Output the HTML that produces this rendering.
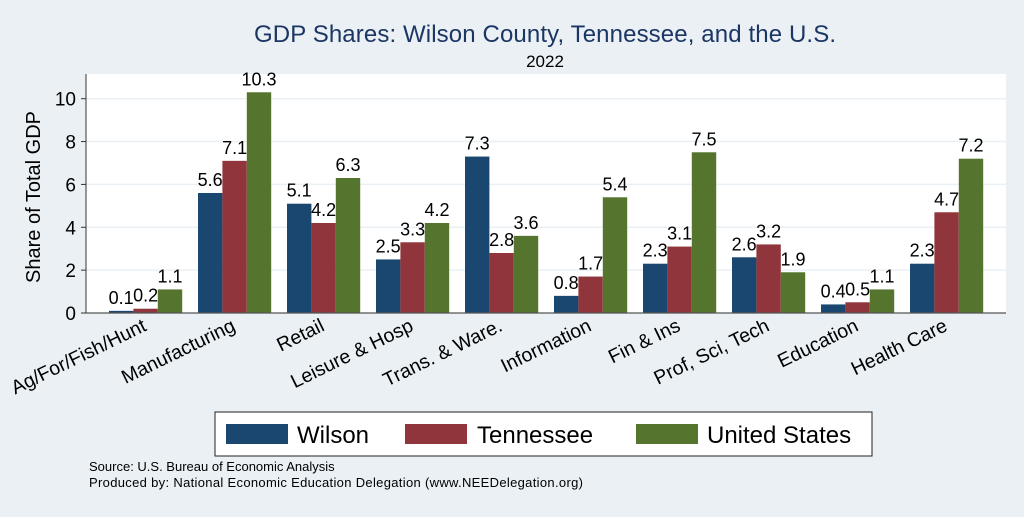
<!DOCTYPE html>
<html><head><meta charset="utf-8"><style>
body{margin:0;width:1024px;height:512px;background:#eaf0f4;font-family:"Liberation Sans",sans-serif;overflow:hidden}
</style></head><body>
<svg width="1024" height="512" xmlns="http://www.w3.org/2000/svg" font-family="Liberation Sans, sans-serif">
<rect x="0" y="0" width="1024" height="512" fill="#eaf0f4"/>
<text x="545" y="42" font-size="24" fill="#1c3664" text-anchor="middle" textLength="582">GDP Shares: Wilson County, Tennessee, and the U.S.</text>
<text x="545" y="67" font-size="17" text-anchor="middle">2022</text>
<rect x="86" y="74" width="920" height="239" fill="#fff"/>
<g id="grid"></g>
<g id="bars"></g>
<line x1="86" y1="74" x2="86" y2="313" stroke="#333" stroke-width="1"/>
<line x1="86" y1="313" x2="1006" y2="313" stroke="#555" stroke-width="1.2"/>
<text transform="translate(40,197) rotate(-90)" font-size="20" text-anchor="middle">Share of Total GDP</text>
<rect x="215" y="412" width="657" height="44" fill="#fff" stroke="#222" stroke-width="1"/>
<g><rect x="226" y="424" width="62" height="20" fill="#1a476f"/><text x="297" y="443" font-size="24">Wilson</text></g>
<g><rect x="405" y="424" width="62" height="20" fill="#90353b"/><text x="477" y="443" font-size="24">Tennessee</text></g>
<g><rect x="636" y="424" width="62" height="20" fill="#55752f"/><text x="707" y="443" font-size="24">United States</text></g>
<text x="89" y="471" font-size="13">Source: U.S. Bureau of Economic Analysis</text>
<text x="89" y="487" font-size="13" textLength="494">Produced by: National Economic Education Delegation (www.NEEDelegation.org)</text>
</svg>
<script>
const categories=["Ag/For/Fish/Hunt","Manufacturing","Retail","Leisure & Hosp","Trans. & Ware.","Information","Fin & Ins","Prof, Sci, Tech","Education","Health Care"];
const wilson=[0.1,5.6,5.1,2.5,7.3,0.8,2.3,2.6,0.4,2.3];
const tennessee=[0.2,7.1,4.2,3.3,2.8,1.7,3.1,3.2,0.5,4.7];
const unitedStates=[1.1,10.3,6.3,4.2,3.6,5.4,7.5,1.9,1.1,7.2];
const yTicks=[0,2,4,6,8,10];
const NS="http://www.w3.org/2000/svg";
const y=v=>313-v*21.43;
const gx=i=>109+i*89;
const bw=24.4;
const grid=document.getElementById('grid'),bars=document.getElementById('bars');
function mk(t,a,p){const e=document.createElementNS(NS,t);for(const k in a)e.setAttribute(k,a[k]);p.appendChild(e);return e;}
yTicks.forEach(t=>{
 if(t>0){const l=mk('line',{x1:86,x2:1006,y1:y(t),y2:y(t),stroke:'#eaf0f4','stroke-width':1.5},grid);
 
 }
 const tk=mk('line',{x1:81,x2:86,y1:y(t),y2:y(t),stroke:'#333'},grid);
 
 
 const tx=mk('text',{x:76,y:y(t)+7,'font-size':19,'text-anchor':'end'},grid);tx.textContent=t;
 
 
});
const series=[[wilson,'#1a476f','wilson'],[tennessee,'#90353b','tennessee'],[unitedStates,'#55752f','us']];
categories.forEach((c,i)=>{
 series.forEach(([vals,col,nm],j)=>{
  const x=gx(i)+j*bw,v=vals[i];
  const r=mk('rect',{x:x,y:y(v),width:bw,height:313-y(v),fill:col},bars);
  
  
  const t=mk('text',{x:x+bw/2,y:y(v)-7,'font-size':18,'text-anchor':'middle'},bars);t.textContent=v;
  
  
 });
 const cx=gx(i)+bw*1.5+2;
 const lt=mk('text',{transform:'translate('+cx+',330) rotate(-26)','font-size':19.5,'text-anchor':'end'},bars);
 lt.textContent=c;
 
 
});
</script>
</body></html>
